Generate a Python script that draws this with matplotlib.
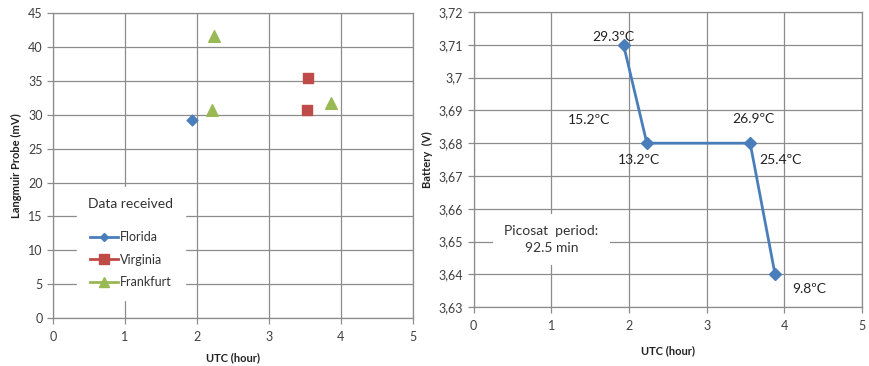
import matplotlib.pyplot as plt
from matplotlib.lines import Line2D

plt.rcParams['font.family'] = ['Lato', 'DejaVu Sans']

# left panel: Langmuir probe readings per ground station
florida_x = [1.93]
florida_y = [29.3]
virginia_x = [3.54, 3.53]
virginia_y = [35.5, 30.7]
frankfurt_x = [2.24, 2.21, 3.86]
frankfurt_y = [41.6, 30.7, 31.8]

# right panel: battery voltage with temperatures
batt_x = [1.93, 2.23, 3.56, 3.88]
batt_y = [3.71, 3.68, 3.68, 3.64]
temp_labels = ['29.3ºC', '15.2ºC', '13.2ºC', '26.9ºC', '25.4ºC', '9.8ºC']
temp_pos = [(1.80, 3.7125), (1.48, 3.687), (2.13, 3.675),
            (3.60, 3.6875), (3.95, 3.675), (4.32, 3.6355)]
batt_ticks = [3.63, 3.64, 3.65, 3.66, 3.67, 3.68, 3.69, 3.70, 3.71, 3.72]
batt_ticklabels = ['3,63', '3,64', '3,65', '3,66', '3,67', '3,68',
                   '3,69', '3,7', '3,71', '3,72']

blue = '#4a7ebb'
red = '#be4b48'
green = '#98b954'
grid_c = '#8c8c8c'
tick_c = '#404040'

fig = plt.figure(figsize=(8.69, 3.66), dpi=100)
ax1 = fig.add_axes([0.061, 0.131, 0.414, 0.833])
ax2 = fig.add_axes([0.545, 0.161, 0.447, 0.806])


def style(ax, pad):
    ax.grid(True, color=grid_c, linewidth=0.9)
    ax.set_axisbelow(True)
    for s in ax.spines.values():
        s.set_color(grid_c)
        s.set_linewidth(0.9)
    ax.tick_params(colors=tick_c, labelsize=9, length=4, width=0.9)
    ax.tick_params(axis='x', color=grid_c, pad=5)
    ax.tick_params(axis='y', color=grid_c)
    ax.set_xlim(0, 5)
    ax.set_xticks(range(6))
    ax.set_xlabel('UTC (hour)', fontsize=8, fontweight='bold', color='#222222',
                  labelpad=pad)


style(ax1, 7)
ax1.set_ylim(0, 45)
ax1.set_yticks(range(0, 46, 5))
ax1.set_ylabel('Langmuir Probe (mV)', fontsize=8, fontweight='bold', color='#222222')
ax1.scatter(florida_x, florida_y, marker='D', s=30, color=blue, zorder=3)
ax1.scatter(virginia_x, virginia_y, marker='s', s=60, color=red, zorder=3)
ax1.scatter(frankfurt_x, frankfurt_y, marker='^', s=70, color=green, zorder=3)

handles = [
    Line2D([], [], color=blue, marker='D', markersize=4, linewidth=2),
    Line2D([], [], color=red, marker='s', markersize=6.5, linewidth=2),
    Line2D([], [], color=green, marker='^', markersize=6.5, linewidth=2),
]
leg = ax1.legend(handles, ['Florida', 'Virginia', 'Frankfurt'],
                 title='Data received', loc='lower left',
                 bbox_to_anchor=(0.05, 0.04), frameon=True, fancybox=False,
                 edgecolor='white', framealpha=1, fontsize=9,
                 title_fontsize=10, handlelength=2.2, handletextpad=0.2,
                 labelspacing=0.85, borderpad=0.9)
leg.get_title().set_color('#333333')
leg._legend_box.sep = 15
for t in leg.get_texts():
    t.set_color('#333333')

style(ax2, 10)
ax2.set_ylim(3.63, 3.72)
ax2.set_yticks(batt_ticks)
ax2.set_yticklabels(batt_ticklabels)
ax2.set_ylabel('Battery  (V)', fontsize=8, fontweight='bold', color='#222222')
ax2.plot(batt_x, batt_y, '-D', color=blue, linewidth=2, markersize=6, zorder=3)
for lab, (x, y) in zip(temp_labels, temp_pos):
    ax2.text(x, y, lab, fontsize=10, color='#222222', ha='center', va='center')
ax2.text(1.0, 3.6505, 'Picosat  period:\n92.5 min', fontsize=10, color='#333333',
         ha='center', va='center', linespacing=1.5,
         bbox=dict(facecolor='white', edgecolor='none', pad=8))

fig.savefig('out.png', dpi=100)
